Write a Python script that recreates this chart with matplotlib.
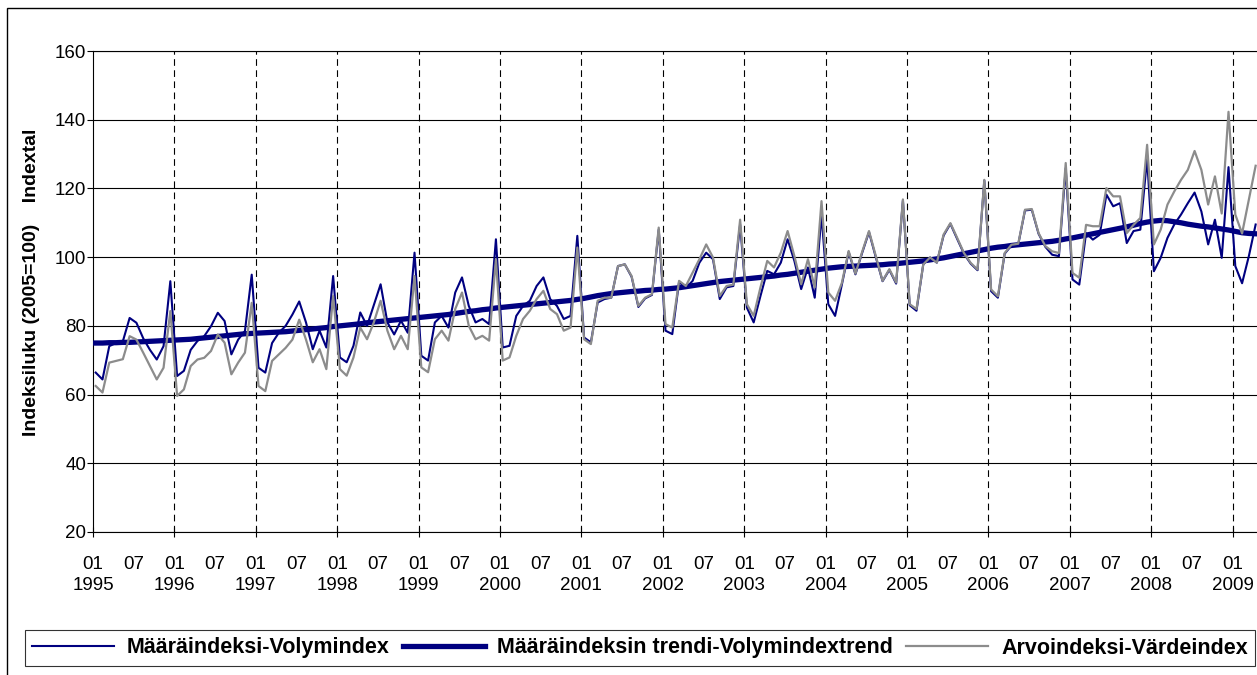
import matplotlib
matplotlib.use("Agg")
import matplotlib.pyplot as plt
from matplotlib.patches import Rectangle

plt.rcParams['font.family'] = ['Liberation Sans', 'DejaVu Sans']

# monthly values, Jan 1995 .. Apr 2009
volume = [
    66.4, 64.4, 74.1, 75.0, 75.5, 82.3, 80.9, 76.4, 73.0, 70.2, 74.1, 93.0,
    65.4, 66.9, 73.0, 75.6, 77.0, 79.9, 83.8, 81.4, 71.7, 76.0, 78.5, 94.9,
    67.8, 66.4, 75.0, 78.0, 80.0, 83.3, 87.1, 81.0, 73.2, 78.6, 73.7, 94.5,
    70.8, 69.4, 74.2, 83.9, 80.0, 86.0, 92.1, 81.0, 77.5, 81.5, 78.0, 101.3,
    71.3, 69.9, 81.0, 82.9, 79.5, 89.7, 94.1, 85.8, 81.0, 82.0, 80.5, 105.2,
    73.7, 74.2, 82.9, 85.8, 87.3, 91.6, 94.1, 87.8, 85.8, 82.0, 82.9, 106.2,
    76.6, 75.2, 86.8, 87.8, 88.2, 97.4, 97.9, 94.3, 85.5, 88.0, 89.0, 108.0,
    78.6, 77.6, 92.8, 91.0, 93.1, 98.4, 101.3, 99.4, 87.8, 91.2, 91.6, 109.5,
    85.3, 81.0, 88.7, 96.0, 95.0, 98.4, 105.2, 98.9, 90.7, 97.0, 88.2, 112.4,
    86.3, 82.9, 92.0, 101.5, 95.0, 101.3, 107.3, 100.0, 93.0, 96.3, 92.3, 116.5,
    86.0, 84.4, 97.9, 99.9, 98.4, 106.3, 109.7, 105.3, 101.0, 98.1, 96.2, 122.3,
    90.1, 88.2, 101.0, 103.4, 103.7, 113.6, 113.8, 106.8, 103.0, 100.7, 100.3, 125.9,
    93.5, 92.0, 107.0, 105.1, 106.5, 118.2, 114.8, 115.7, 104.1, 107.6, 108.0, 128.8,
    95.9, 99.8, 105.6, 109.5, 112.4, 115.7, 118.8, 113.3, 103.7, 110.9, 99.8, 126.2,
    97.4, 92.4, 100.3, 109.5,
]
trend = [
    75.0, 75.0, 75.1, 75.1, 75.2, 75.2, 75.3, 75.4, 75.5, 75.6, 75.7, 75.8,
    75.9, 76.0, 76.1, 76.3, 76.5, 76.7, 76.9, 77.1, 77.3, 77.5, 77.7, 77.8,
    77.9, 78.0, 78.1, 78.2, 78.3, 78.5, 78.7, 78.9, 79.1, 79.3, 79.5, 79.8,
    80.0, 80.2, 80.4, 80.6, 80.9, 81.1, 81.3, 81.5, 81.7, 81.9, 82.1, 82.3,
    82.5, 82.7, 82.9, 83.1, 83.3, 83.6, 83.9, 84.2, 84.4, 84.7, 84.9, 85.2,
    85.4, 85.6, 85.8, 86.0, 86.2, 86.4, 86.6, 86.8, 87.0, 87.2, 87.4, 87.7,
    88.0, 88.4, 88.8, 89.1, 89.4, 89.6, 89.8, 90.0, 90.1, 90.3, 90.4, 90.6,
    90.7, 90.9, 91.1, 91.4, 91.7, 92.0, 92.3, 92.6, 92.9, 93.1, 93.3, 93.5,
    93.7, 93.9, 94.1, 94.3, 94.5, 94.8, 95.0, 95.3, 95.6, 95.9, 96.2, 96.5,
    96.8, 97.0, 97.2, 97.3, 97.4, 97.5, 97.6, 97.7, 97.8, 98.0, 98.1, 98.3,
    98.5, 98.7, 98.9, 99.2, 99.5, 99.8, 100.2, 100.6, 101.0, 101.4, 101.8, 102.2,
    102.6, 102.9, 103.1, 103.4, 103.6, 103.8, 104.0, 104.2, 104.4, 104.6, 104.9, 105.3,
    105.6, 106.0, 106.4, 106.8, 107.2, 107.6, 108.0, 108.4, 108.8, 109.3, 109.8, 110.2,
    110.5, 110.7, 110.6, 110.3, 110.0, 109.6, 109.3, 109.0, 108.8, 108.5, 108.2, 107.9,
    107.5, 107.1, 106.9, 106.8,
]
value = [
    62.5, 60.6, 69.3, 69.8, 70.3, 77.0, 76.0, 72.2, 68.3, 64.4, 67.8, 84.3,
    59.6, 61.5, 68.3, 70.2, 70.7, 72.7, 77.5, 75.1, 65.9, 69.3, 72.2, 86.7,
    62.5, 61.0, 69.8, 71.7, 73.6, 76.0, 81.8, 76.0, 69.4, 73.2, 67.4, 88.7,
    67.4, 65.5, 70.8, 79.5, 76.1, 81.0, 87.3, 78.6, 73.2, 77.1, 73.2, 94.5,
    67.9, 66.5, 76.1, 78.6, 75.7, 84.9, 89.7, 80.0, 76.1, 77.1, 75.7, 99.4,
    69.9, 70.8, 77.1, 82.0, 84.4, 87.8, 90.2, 84.9, 83.4, 78.6, 79.5, 102.8,
    76.1, 74.7, 87.3, 88.2, 88.2, 97.4, 97.9, 94.5, 85.8, 88.2, 89.2, 108.6,
    80.5, 79.5, 93.1, 91.6, 95.5, 99.4, 103.7, 99.9, 88.7, 91.6, 92.0, 110.9,
    86.3, 82.9, 91.2, 98.9, 97.0, 101.3, 107.6, 100.3, 92.1, 99.4, 91.2, 116.3,
    89.7, 87.3, 92.5, 101.8, 95.2, 101.6, 107.6, 100.3, 93.1, 96.5, 92.6, 116.8,
    86.3, 84.9, 97.9, 99.9, 98.4, 106.6, 109.9, 105.6, 101.2, 98.3, 96.4, 122.5,
    90.6, 88.6, 101.2, 103.6, 103.9, 113.8, 114.0, 107.0, 103.2, 101.7, 101.2, 127.4,
    95.4, 94.0, 109.4, 109.0, 109.0, 120.1, 117.7, 117.7, 107.0, 109.4, 111.4, 132.7,
    103.7, 108.0, 115.3, 119.1, 122.5, 125.4, 130.9, 125.4, 115.3, 123.5, 112.7, 142.3,
    112.4, 106.9, 116.7, 126.6,
]
years = list(range(1995, 2010))
labels = ["Määräindeksi-Volymindex",
          "Määräindeksin trendi-Volymindextrend",
          "Arvoindeksi-Värdeindex"]

NAVY = "#000080"
GRAY = "#8c8c8c"

fig = plt.figure(figsize=(12.57, 6.75), dpi=100)
ax = fig.add_axes([93 / 1257, 1 - 532 / 675, 1 - 93 / 1257, (532 - 51) / 675])

x = list(range(len(volume)))
l1, = ax.plot(x, volume, color=NAVY, lw=1.5, zorder=3)
l2, = ax.plot(x, trend, color=NAVY, lw=3.8, zorder=4)
l3, = ax.plot(x, value, color=GRAY, lw=1.6, zorder=5)

ax.set_ylim(20, 160)
ax.set_xlim(-0.4, 171.2)
ax.set_yticks(range(20, 161, 20))
ax.yaxis.grid(True, color="black", lw=0.8)
ax.set_axisbelow(True)

# january lines
for k in range(1, len(years)):
    ax.axvline(12 * k - 0.4, color="black", lw=0.8, ls=(0, (6, 4)), zorder=1)

ax.set_xticks([12 * k - 0.4 for k in range(len(years))])
ax.set_xticklabels(["01\n%d" % y for y in years])
ax.set_xticks([12 * k + 5.6 for k in range(len(years) - 1)], minor=True)
ax.set_xticklabels(["07"] * (len(years) - 1), minor=True)
ax.tick_params(axis="x", which="major", direction="inout", length=7, width=0.8,
               pad=14, labelsize=13.5)
ax.tick_params(axis="x", which="minor", length=0, pad=17.5, labelsize=13.5)
for t in ax.get_xticklabels():
    t.set_linespacing(1.3)
ax.tick_params(axis="y", direction="out", length=4, width=0.8, pad=1, labelsize=13.5)

for s in ["left", "bottom", "top"]:
    ax.spines[s].set_color("black")
    ax.spines[s].set_linewidth(0.8)
ax.spines["right"].set_visible(False)

ax.set_ylabel("Indeksiluku (2005=100)    Indextal", fontsize=14, fontweight="bold")
ax.yaxis.set_label_coords(-53 / 1164, 0.52)

leg = fig.legend([l1, l2, l3], labels, loc="center", ncol=3,
                 bbox_to_anchor=(640 / 1257, 1 - 648 / 675),
                 prop={"size": 15.5, "weight": "bold"}, frameon=True, fancybox=False,
                 edgecolor="black", handlelength=3.8, columnspacing=0.6,
                 handletextpad=0.6, borderpad=0.35)
leg.get_frame().set_linewidth(0.8)

# chart border
fig.patches.append(Rectangle((7 / 1257, -0.1), 1.2, 1.1 - 8 / 675, transform=fig.transFigure,
                             fill=False, edgecolor="black", lw=1.0))

fig.savefig("out.png", dpi=100)
